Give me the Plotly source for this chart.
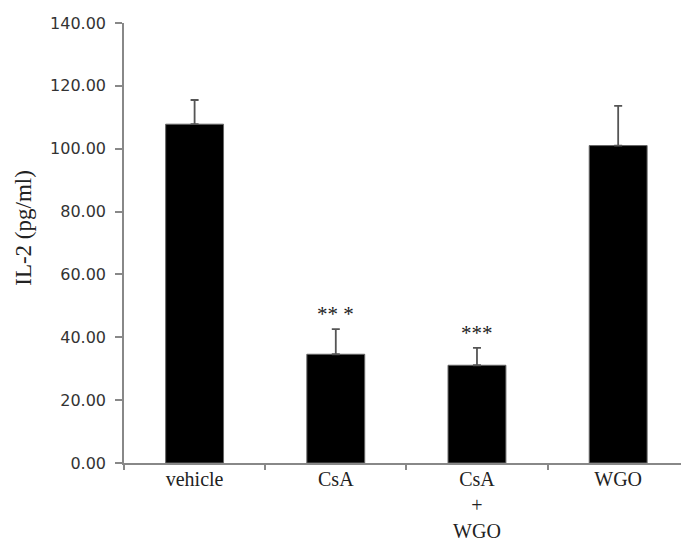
import plotly.graph_objects as go

categories = ["vehicle", "CsA", "CsA<br>+<br>WGO", "WGO"]
means = [107.8, 34.6, 31.1, 101.0]
errors = [7.7, 8.0, 5.5, 12.6]
signif = ["", "** *", "***", ""]
y_ticks = [0, 20, 40, 60, 80, 100, 120, 140]

fig = go.Figure()
fig.add_trace(go.Bar(
    x=categories, y=means,
    width=0.41,
    marker=dict(color="black", line=dict(color="#666666", width=1)),
    error_y=dict(type="data", array=errors, arrayminus=[0] * len(errors),
                 symmetric=False, color="#555555", thickness=1.8, width=4),
    showlegend=False,
))

for c, m, e, s in zip(categories, means, errors, signif):
    if s:
        fig.add_annotation(x=c, y=m + e + 4.8, text=s, showarrow=False,
                           xanchor="center", yanchor="middle",
                           font=dict(family="Liberation Serif", size=21, color="#222222"))

fig.add_annotation(xref="paper", yref="paper", x=-0.181, y=0.535,
                   text="IL-2 (pg/ml)", textangle=-90, showarrow=False,
                   xanchor="center", yanchor="middle",
                   font=dict(family="Liberation Serif", size=23, color="#222222"))

fig.update_layout(
    width=681, height=543,
    margin=dict(l=124, r=0, t=23, b=80, autoexpand=False),
    plot_bgcolor="white", paper_bgcolor="white",
    bargap=0.59,
)
fig.update_xaxes(
    range=[-0.5, 3.445], automargin=False,
    showline=True, linecolor="#888888", linewidth=1.5,
    ticks="outside", tickson="boundaries", ticklen=5, tickcolor="#888888", tickwidth=1.5,
    tickfont=dict(family="Liberation Serif", size=20, color="#222222"),
    ticklabelstandoff=-3,
    showgrid=False, zeroline=False,
)
fig.update_yaxes(
    range=[0, 140], tickvals=y_ticks, tickformat=".2f", automargin=False,
    showline=True, linecolor="#888888", linewidth=1.5,
    ticks="outside", ticklen=7, tickcolor="#888888", tickwidth=1.5,
    tickfont=dict(family="DejaVu Sans", size=16, color="#333333"),
    ticklabelstandoff=6,
    showgrid=False, zeroline=False,
)

fig.write_html("out.html")
